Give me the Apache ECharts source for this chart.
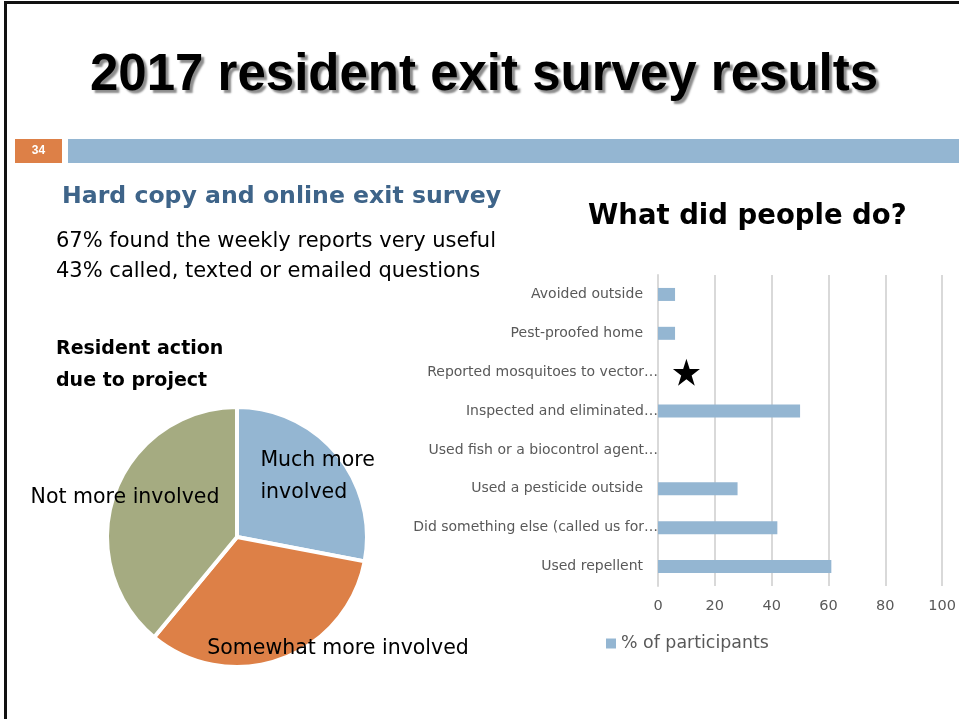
<!DOCTYPE html>
<html>
<head>
<meta charset="utf-8">
<script src="https://cdn.jsdelivr.net/npm/echarts@6/dist/echarts.min.js"></script>
<style>
  html, body { margin: 0; padding: 0; background: #ffffff; }
  #chart { width: 959px; height: 719px; }
</style>
</head>
<body>
<div id="chart"></div>
<script>
// Resident action due to project (pie)
const involvementLabels = ['Much more\ninvolved', 'Somewhat more involved', 'Not more involved'];
const involvementShares = [28, 33, 39];

// What did people do? (% of participants)
const actionCategories = [
  'Avoided outside',
  'Pest-proofed home',
  'Reported mosquitoes to vector…',
  'Inspected and eliminated…',
  'Used fish or a biocontrol agent…',
  'Used a pesticide outside',
  'Did something else (called us for…',
  'Used repellent'
];
const actionPercents = [6, 6, 0, 50, 0, 28, 42, 61];
const percentTicks = [0, 20, 40, 60, 80, 100];

// Highlighted category gets a star marker
const starredCategory = 'Reported mosquitoes to vector…';
const starredAt = 10;

const BLUE = '#94b6d2';
const ORANGE = '#dd8047';
const OLIVE = '#a5ab81';
const GREY_TEXT = '#595959';
const GRID_GREY = '#d9d9d9';
const FONT = 'DejaVu Sans';

const STAR_PATH = 'path://M50,0 L61.8,35.1 L98.9,35.1 L68.9,56.9 L80.3,92 L50,70.3 L19.7,92 L31.1,56.9 L1.1,35.1 L38.2,35.1 Z';

// pie label nudges relative to the default inside position
const pieLabelShift = [
  { dx: -29, dy: -17, align: 'left' },
  { dx: 78, dy: 48, align: 'center' },
  { dx: -48, dy: -16, align: 'center' }
];

const chart = echarts.init(document.getElementById('chart'), null, { renderer: 'canvas' });

const option = {
  backgroundColor: '#ffffff',
  animation: false,
  graphic: [
    // slide frame
    { type: 'rect', shape: { x: 4, y: 1, width: 960, height: 3 }, style: { fill: '#111' } },
    { type: 'rect', shape: { x: 4, y: 1, width: 3, height: 720 }, style: { fill: '#111' } },
    // slide number tab and band
    { type: 'rect', shape: { x: 15, y: 139, width: 47, height: 24 }, style: { fill: ORANGE } },
    { type: 'text', x: 38.5, y: 151, style: { text: '34', fill: '#fff', font: 'bold 12px "Liberation Sans"', align: 'center', verticalAlign: 'middle' } },
    { type: 'rect', shape: { x: 68, y: 139, width: 891, height: 24 }, style: { fill: BLUE } }
  ],
  title: [
    {
      text: '2017 resident exit survey results',
      left: 479, top: 45, textAlign: 'center',
      textStyle: {
        fontFamily: 'Liberation Sans', fontWeight: 'bold', fontSize: 51, color: '#000',
        textShadowColor: 'rgba(0,0,0,0.45)', textShadowBlur: 2, textShadowOffsetX: 3, textShadowOffsetY: 3
      }
    },
    {
      text: 'Hard copy and online exit survey',
      left: 57, top: 180,
      textStyle: { fontFamily: FONT, fontWeight: 'bold', fontSize: 23.6, color: '#3e6489' }
    },
    {
      text: '67% found the weekly reports very useful\n43% called, texted or emailed questions',
      left: 51, top: 222,
      textStyle: { fontFamily: FONT, fontWeight: 'normal', fontSize: 21, color: '#000', lineHeight: 30 }
    },
    {
      text: 'Resident action\ndue to project',
      left: 51, top: 328,
      textStyle: { fontFamily: FONT, fontWeight: 'bold', fontSize: 19, color: '#000', lineHeight: 32 }
    },
    {
      text: 'What did people do?',
      left: 583, top: 198,
      textStyle: { fontFamily: FONT, fontWeight: 'bold', fontSize: 27.5, color: '#000' }
    }
  ],
  legend: {
    left: 601, top: 630,
    icon: 'rect', itemWidth: 10, itemHeight: 10, itemGap: 5,
    data: ['% of participants'],
    textStyle: { fontFamily: FONT, fontSize: 17.4, color: GREY_TEXT }
  },
  grid: { left: 658, right: 14.5, top: 275, height: 311, containLabel: false },
  xAxis: {
    type: 'value', min: 0, max: 100, interval: 20,
    axisLine: { show: false }, axisTick: { show: false },
    splitLine: { show: true, lineStyle: { color: GRID_GREY, width: 2 } },
    axisLabel: {
      fontFamily: FONT, fontSize: 14.5, color: GREY_TEXT, margin: 13,
      formatter: v => (percentTicks.indexOf(v) >= 0 ? String(v) : '')
    }
  },
  yAxis: {
    type: 'category', inverse: true, data: actionCategories,
    axisLine: { show: true, lineStyle: { color: GRID_GREY, width: 2 } },
    axisTick: { show: false },
    axisLabel: {
      fontFamily: FONT, fontSize: 14, color: GREY_TEXT, margin: 0,
      formatter: v => (v.endsWith('…') ? v : v + '{pad|}'),
      rich: { pad: { width: 15 } }
    }
  },
  series: [
    {
      name: '% of participants',
      type: 'bar',
      data: actionPercents,
      barWidth: 13,
      itemStyle: { color: BLUE },
      markPoint: {
        symbol: STAR_PATH, symbolSize: 27,
        itemStyle: { color: '#000' },
        label: { show: false },
        data: [{ coord: [starredAt, starredCategory] }]
      }
    },
    {
      name: 'Resident action',
      type: 'pie',
      center: [237, 537], radius: 130,
      startAngle: 90, clockwise: true,
      itemStyle: { borderColor: '#fff', borderWidth: 4 },
      label: {
        show: true, position: 'inside',
        fontFamily: FONT, fontSize: 20.5, color: '#000', lineHeight: 32,
        formatter: p => p.name
      },
      labelLine: { show: false },
      labelLayout: params => pieLabelShift[params.dataIndex],
      emphasis: { disabled: true },
      data: involvementLabels.map((name, i) => ({
        name: name, value: involvementShares[i],
        itemStyle: { color: [BLUE, ORANGE, OLIVE][i] }
      }))
    }
  ]
};

chart.setOption(option);
</script>
</body>
</html>
